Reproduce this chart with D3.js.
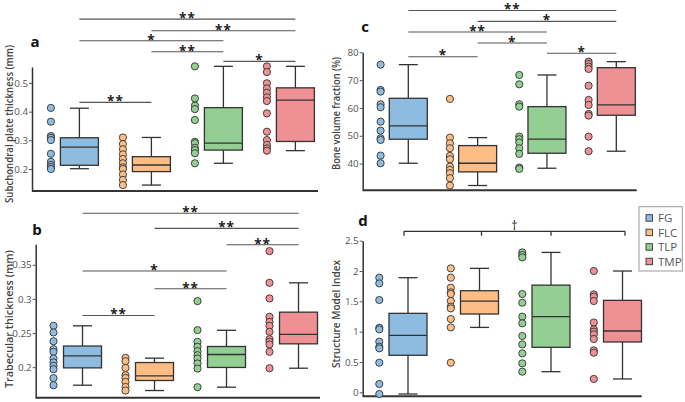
<!DOCTYPE html>
<html><head><meta charset="utf-8">
<script src="https://cdn.jsdelivr.net/npm/d3@7"></script>
<style>
html,body{margin:0;padding:0;background:#fff;}
svg{display:block;font-family:"Open Sans",sans-serif;}
</style></head>
<body>
<svg id="chart" width="685" height="402"></svg>
<script>
const groups = ["FG", "FLC", "TLP", "TMP"];
const colors = ["#8ebbe0", "#fdbd84", "#93cf92", "#ef9094"];

// Panel a: Subchondral plate thickness (mm)
const aPoints = [
  [0.413,0.365,0.315,0.309,0.301,0.253,0.225,0.214,0.207,0.200],
  [0.310,0.287,0.269,0.251,0.235,0.220,0.206,0.200,0.181,0.162,0.144],
  [0.558,0.446,0.421,0.409,0.371,0.295,0.290,0.274,0.266,0.255,0.220],
  [0.558,0.538,0.499,0.481,0.466,0.450,0.437,0.394,0.330,0.301,0.284,0.272,0.264]
];
// [min, q1, median, q3, max]
const aBox = [
  [0.201,0.213,0.276,0.309,0.412],
  [0.144,0.191,0.214,0.243,0.310],
  [0.220,0.266,0.290,0.414,0.558],
  [0.264,0.296,0.440,0.483,0.558]
];
const aTicks = [0.2, 0.3, 0.4, 0.5];
// [from, to, label, level]
const aSig = [[0,3,"**",0.7226],[1,3,"**",0.6819],[0,2,"*",0.647],[1,2,"**",0.6087],[2,3,"*",0.5753],[0,1,"**",0.4324]];

// Panel b: Trabecular thickness (mm)
const bPoints = [
  [0.2606,0.2508,0.238,0.2264,0.2225,0.2127,0.207,0.202,0.197,0.184,0.1736],
  [0.2137,0.2088,0.199,0.1883,0.1843,0.1785,0.1711,0.1658],
  [0.2968,0.2543,0.2371,0.2298,0.2235,0.2176,0.2127,0.2054,0.198,0.1707],
  [0.370,0.3236,0.3007,0.2738,0.2664,0.2606,0.2518,0.241,0.2371,0.2333,0.2225,0.1985]
];
const bBox = [
  [0.1736,0.199,0.2166,0.231,0.2606],
  [0.1658,0.1805,0.1873,0.2068,0.2132],
  [0.1707,0.1996,0.2186,0.2303,0.254],
  [0.1985,0.2342,0.248,0.2806,0.3236]
];
const bTicks = [0.2, 0.25, 0.3, 0.35];
const bSig = [[0,3,"**",0.4254],[1,3,"**",0.4034],[2,3,"**",0.3793],[0,2,"*",0.3408],[1,2,"**",0.3148],[0,1,"**",0.2758]];

// Panel c: Bone volume fraction (%)
const cPoints = [
  [75.56,66.46,65.86,61.32,60.24,55.08,51.85,49.1,48.5,42.87,40.13],
  [63.23,49.34,47.31,45.52,42.76,41.56,38.93,37.74,36.55,34.75,32.12],
  [71.85,68.5,61.32,60.47,49.7,48.76,47.56,45.52,43.48,38.57,38.1],
  [76.64,75.8,74.84,74.0,68.0,62.87,61.08,57.85,57.25,49.7,44.45]
];
const cBox = [
  [40.13,48.76,53.54,63.47,75.56],
  [32.12,37.02,40.13,46.47,49.34],
  [38.33,43.72,48.76,60.47,71.85],
  [44.45,57.37,61.08,74.47,76.64]
];
const cTicks = [40, 50, 60, 70, 80];
const cSig = [[0,3,"**",95.0],[1,3,"*",91.13],[0,2,"**",87.29],[1,2,"*",83.34],[2,3,"*",79.64],[0,1,"*",78.42]];

// Panel d: Structure Model Index
const dPoints = [
  [1.89,1.796,1.522,1.065,1.038,0.835,0.752,0.725,0.488,0.137,-0.028],
  [2.044,1.89,1.725,1.648,1.621,1.505,1.412,1.384,1.208,1.07,0.488],
  [2.307,2.263,2.225,1.621,1.477,1.247,1.137,0.928,0.79,0.642,0.477,0.34],
  [2.0,1.615,1.577,1.505,1.151,1.038,1.0,0.956,0.879,0.692,0.653,0.22]
];
const dBox = [
  [-0.028,0.61,0.94,1.302,1.89],
  [1.07,1.291,1.505,1.675,2.044],
  [0.34,0.742,1.247,1.767,2.307],
  [0.22,0.83,1.011,1.516,2.0]
];
const dTicks = [0, 0.5, 1, 1.5, 2, 2.5];
const dBracket = ["†", 2.654, 2.582];

const svg = d3.select("#chart");

const panels = [
  {id:"a", title:"Subchondral plate thickness (mm)", points:aPoints, box:aBox, ticks:aTicks, sig:aSig,
   xAxis:[32,318], yRange:[191,67], yDomain:[0.1233,0.5557], centers:[79.4,295.4], ptOff:-28.5,
   label:[35,47], titlePos:[8,124], titleLen:158},
  {id:"b", title:"Trabecular thickness (mm)", points:bPoints, box:bBox, ticks:bTicks, sig:bSig,
   xAxis:[35.7,320], yRange:[397.7,244.3], yDomain:[0.1553,0.3800], centers:[82.5,298.5], ptOff:-29,
   label:[37,235], titlePos:[8.5,319], titleLen:138},
  {id:"c", title:"Bone volume fraction (%)", points:cPoints, box:cBox, ticks:cTicks, sig:cSig,
   xAxis:[362.7,636.7], yRange:[190.3,52.3], yDomain:[30.4,80], centers:[408.3,616.3], ptOff:-27.7,
   label:[365,32], titlePos:[335.5,113.5], titleLen:113},
  {id:"d", title:"Structure Model Index", points:dPoints, box:dBox, ticks:dTicks, sig:null,
   xAxis:[362.7,641.7], yRange:[396.3,240.7], yDomain:[-0.066,2.5], centers:[408,622.5], ptOff:-28.7,
   label:[363,226], titlePos:[335.5,314], titleLen:108}
];

const boxW = 38, capW = 19, r = 3.6;

panels.forEach(p => {
  const g = svg.append("g");
  const y = d3.scaleLinear().domain(p.yDomain).range(p.yRange);
  const x = d3.scalePoint().domain(groups).range(p.centers);

  // y axis
  const ax = g.append("g").attr("transform", `translate(${p.xAxis[0]},0)`)
    .call(d3.axisLeft(y).tickValues(p.ticks).tickSize(3).tickSizeOuter(0).tickFormat(d3.format("~g")));
  ax.select(".domain").attr("stroke", "#333").attr("stroke-width", 1.5);
  ax.selectAll(".tick line").attr("stroke", "#555");
  ax.selectAll(".tick text").attr("fill", "#555").attr("font-size", 9.8)
    .attr("font-family", "Open Sans").attr("x", -4);
  // x axis line
  g.append("line").attr("x1", p.xAxis[0]).attr("x2", p.xAxis[1])
    .attr("y1", p.yRange[0]).attr("y2", p.yRange[0])
    .attr("stroke", "#333").attr("stroke-width", 2);

  // title
  g.append("text").attr("transform", `translate(${p.titlePos[0]},${p.titlePos[1]}) rotate(-90)`)
    .attr("text-anchor", "middle").attr("dominant-baseline", "central")
    .attr("font-size", 10.8).attr("font-weight", 600).attr("fill", "#444")
    .attr("textLength", p.titleLen).attr("lengthAdjust", "spacingAndGlyphs").text(p.title);
  // panel label
  g.append("text").attr("x", p.label[0]).attr("y", p.label[1]).attr("text-anchor", "middle")
    .attr("font-size", 15).attr("font-weight", 700).attr("fill", "#111").text(p.id);

  // boxes
  groups.forEach((grp, i) => {
    const cx = x(grp), b = p.box[i], col = colors[i];
    const gg = g.append("g");
    gg.append("line").attr("x1", cx).attr("x2", cx).attr("y1", y(b[0])).attr("y2", y(b[1]))
      .attr("stroke", "#333").attr("stroke-width", 1.3);
    gg.append("line").attr("x1", cx).attr("x2", cx).attr("y1", y(b[3])).attr("y2", y(b[4]))
      .attr("stroke", "#333").attr("stroke-width", 1.3);
    [b[0], b[4]].forEach(v => gg.append("line").attr("x1", cx - capW/2).attr("x2", cx + capW/2)
      .attr("y1", y(v)).attr("y2", y(v)).attr("stroke", "#333").attr("stroke-width", 1.3));
    gg.append("rect").attr("x", cx - boxW/2).attr("width", boxW)
      .attr("y", y(b[3])).attr("height", y(b[1]) - y(b[3]))
      .attr("fill", col).attr("stroke", "#333").attr("stroke-width", 1.3);
    gg.append("line").attr("x1", cx - boxW/2).attr("x2", cx + boxW/2)
      .attr("y1", y(b[2])).attr("y2", y(b[2])).attr("stroke", "#333").attr("stroke-width", 1.3);
    // points
    gg.selectAll("circle").data(p.points[i]).join("circle")
      .attr("cx", cx + p.ptOff).attr("cy", d => y(d)).attr("r", r)
      .attr("fill", col).attr("stroke", "#333").attr("stroke-width", 0.9);
  });

  // significance bars
  if (p.sig) {
    p.sig.forEach(s => {
      const x1 = x(groups[s[0]]), x2 = x(groups[s[1]]), yy = y(s[3]);
      g.append("line").attr("x1", x1).attr("x2", x2).attr("y1", yy).attr("y2", yy)
        .attr("stroke", "#555").attr("stroke-width", 1.1);
      g.append("text").attr("x", (x1 + x2) / 2).attr("y", yy + 3.8).attr("text-anchor", "middle")
        .attr("font-size", 13.5).attr("font-weight", 700).attr("letter-spacing", 1).attr("fill", "#222").text(s[2]);
    });
  } else {
    const yy = y(dBracket[1]), yt = y(dBracket[2]);
    const xa = x(groups[0]) - 4, xb = x(groups[3]) + 2.5;
    g.append("line").attr("x1", xa).attr("x2", xb).attr("y1", yy).attr("y2", yy)
      .attr("stroke", "#333").attr("stroke-width", 1.3);
    [xa, x(groups[1]) + 2, x(groups[2]), xb].forEach(xx =>
      g.append("line").attr("x1", xx).attr("x2", xx).attr("y1", yy).attr("y2", yt)
        .attr("stroke", "#333").attr("stroke-width", 1.3));
    const xm = (xa + xb) / 2;
    g.append("text").attr("x", xm).attr("y", yy - 1.5).attr("text-anchor", "middle")
      .attr("font-size", 12.5).attr("fill", "#222").text(dBracket[0]);

    // legend
    const lg = svg.append("g").attr("transform", "translate(639,206.7)");
    lg.append("rect").attr("width", 43.3).attr("height", 64.3).attr("fill", "#fff")
      .attr("stroke", "#999").attr("stroke-width", 1);
    groups.forEach((grp, i) => {
      lg.append("rect").attr("x", 7).attr("y", 8 + i * 14.5).attr("width", 6.5).attr("height", 6.5)
        .attr("fill", colors[i]).attr("stroke", "#333").attr("stroke-width", 0.9);
      lg.append("text").attr("x", 19).attr("y", 11.3 + i * 14.5).attr("dominant-baseline", "central")
        .attr("font-size", 11.5).attr("fill", "#555").text(grp);
    });
  }
});
</script>
</body></html>
